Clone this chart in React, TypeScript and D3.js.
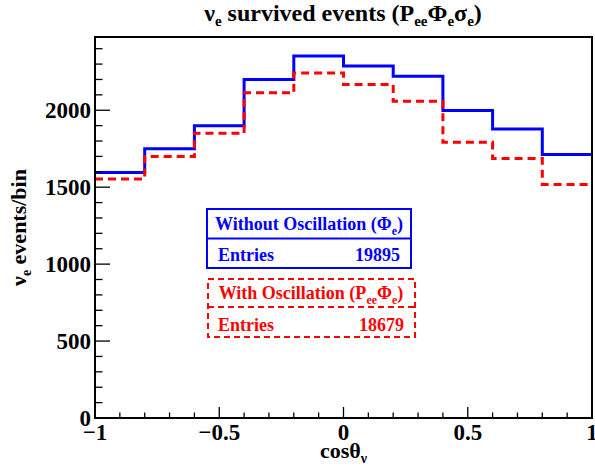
import React from 'react';
import * as d3 from 'd3';

// bin edges in cos(theta_nu)
const binEdges = [-1, -0.8, -0.6, -0.4, -0.2, 0, 0.2, 0.4, 0.6, 0.8, 1];
// events per bin, no oscillation (blue) and with oscillation (red)
const noOscValues = [1595, 1749, 1899, 2200, 2353, 2288, 2221, 1999, 1878, 1713];
const oscValues = [1554, 1699, 1850, 2113, 2242, 2167, 2059, 1792, 1686, 1517];
const noOscEntries = 19895;
const oscEntries = 18679;
const xTicks = [-1, -0.5, 0, 0.5, 1];
const yTicks = [0, 500, 1000, 1500, 2000];

const W = 595;
const H = 470;
const margin = { top: 37, right: 3, bottom: 52, left: 95 };
const ts = { fontFamily: "'Liberation Serif'", fontWeight: 'bold' as const };

const App = () => {
  const x = d3.scaleLinear().domain([-1, 1]).range([margin.left, W - margin.right]);
  const y = d3.scaleLinear().domain([0, 2476]).range([H - margin.bottom, margin.top]);
  const x0 = x.range()[0], x1 = x.range()[1];
  const y0 = y.range()[0], y1 = y.range()[1];

  const stepPath = (vals: number[]) => {
    const pts: [number, number][] = vals.map((v, i) => [binEdges[i], v]);
    pts.push([binEdges[binEdges.length - 1], vals[vals.length - 1]]);
    return d3.line<[number, number]>().x(d => x(d[0])).y(d => y(d[1])).curve(d3.curveStepAfter)(pts) || '';
  };

  const xMinor = d3.range(-1, 1.0001, 0.1);
  const yMinor = d3.range(0, 2476, 100);
  const fmtX = (v: number) => (v === 0 ? '0' : v < 0 ? '\u2212' + String(-v) : String(v));

  const sub = (t: string, size = 13) => (
    <tspan fontSize={size} dy={5}>{t}</tspan>
  );

  return (
    <div style={{ position: 'absolute', left: 0, top: 0 }}>
      <svg width={W} height={H} style={{ display: 'block', background: '#fff' }}>
        {/* title */}
        <text x={343} y={21} fontSize={24} textAnchor="middle" style={ts}>
          ν{sub('e', 15)}<tspan dy={-5}> survived events (P</tspan>{sub('ee', 15)}<tspan dy={-5}>Φ</tspan>{sub('e', 15)}<tspan dy={-5}>σ</tspan>{sub('e', 15)}<tspan dy={-5}>)</tspan>
        </text>

        {/* histograms */}
        <path d={stepPath(noOscValues)} fill="none" stroke="#0000ff" strokeWidth={3} />
        <path d={stepPath(oscValues)} fill="none" stroke="#ff0000" strokeWidth={3} strokeDasharray="8,5" />

        {/* frame */}
        <rect x={x0} y={y1} width={x1 - x0} height={y0 - y1} fill="none" stroke="#000" strokeWidth={2} />

        {/* x axis ticks */}
        {xMinor.map((v, i) => {
          const major = xTicks.some(t => Math.abs(t - v) < 1e-6);
          return <line key={'xm' + i} x1={x(v)} x2={x(v)} y1={y0} y2={y0 - (major ? 11 : 5.5)} stroke="#000" strokeWidth={1.3} />;
        })}
        {xTicks.map(v => (
          <text key={'xt' + v} x={x(v)} y={y0 + 22} fontSize={23} textAnchor="middle" style={ts}>{fmtX(v)}</text>
        ))}

        {/* y axis ticks */}
        {yMinor.map((v, i) => {
          const major = v % 500 === 0;
          return <line key={'ym' + i} x1={x0} x2={x0 + (major ? 15 : 7.5)} y1={y(v)} y2={y(v)} stroke="#000" strokeWidth={1.3} />;
        })}
        {yTicks.map(v => (
          <text key={'yt' + v} x={x0 - 4} y={y(v) + 7.5} fontSize={23} textAnchor="end" style={ts}>{v}</text>
        ))}

        {/* axis titles */}
        <text x={(x0 + x1) / 2} y={458} fontSize={22} textAnchor="middle" style={ts}>
          cosθ{sub('ν', 14)}
        </text>
        <text transform={`translate(26,${(y0 + y1) / 2}) rotate(-90)`} fontSize={22} textAnchor="middle" style={ts}>
          ν{sub('e', 14)}<tspan dy={-5}> events/bin</tspan>
        </text>

        {/* legend: without oscillation */}
        <g fill="#0000ff" style={ts}>
          <rect x={207} y={209} width={204} height={59} fill="none" stroke="#0000ff" strokeWidth={2} />
          <line x1={207} x2={411} y1={238.5} y2={238.5} stroke="#0000ff" strokeWidth={2} />
          <text x={309} y={230} fontSize={18} textAnchor="middle" style={ts}>
            Without Oscillation (Φ{sub('e', 12)}<tspan dy={-5}>)</tspan>
          </text>
          <text x={218} y={261} fontSize={18} style={ts}>Entries</text>
          <text x={400} y={261} fontSize={18} textAnchor="end" style={ts}>{noOscEntries}</text>
        </g>

        {/* legend: with oscillation */}
        <g fill="#ff0000" style={ts}>
          <rect x={208} y={279} width={207} height={58} fill="none" stroke="#ff0000" strokeWidth={2} strokeDasharray="6,4" />
          <line x1={208} x2={415} y1={307} y2={307} stroke="#ff0000" strokeWidth={2} strokeDasharray="6,4" />
          <text x={311} y={299} fontSize={18} textAnchor="middle" style={ts}>
            With Oscillation (P{sub('ee', 12)}<tspan dy={-5}>Φ</tspan>{sub('e', 12)}<tspan dy={-5}>)</tspan>
          </text>
          <text x={218} y={331} fontSize={18} style={ts}>Entries</text>
          <text x={404} y={331} fontSize={18} textAnchor="end" style={ts}>{oscEntries}</text>
        </g>
      </svg>
    </div>
  );
};

export default App;
